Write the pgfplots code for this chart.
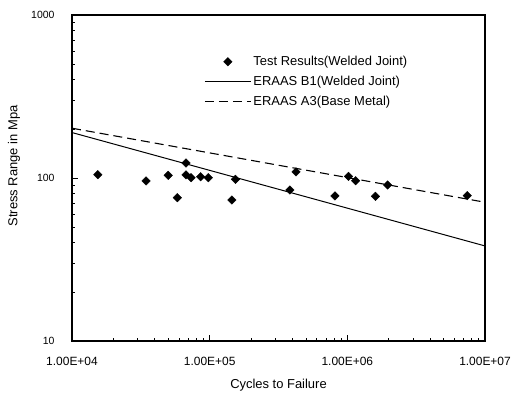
\documentclass[border=0pt]{standalone}
\usepackage{pgfplots}
\pgfplotsset{compat=1.18}
\usepackage{fontspec}
\setmainfont{Liberation Sans}
\begin{document}
\begin{tikzpicture}
\useasboundingbox (0,0) rectangle (512bp,394bp);
\begin{axis}[
  at={(72bp,53bp)}, anchor=south west,
  scale only axis, width=413bp, height=326bp,
  xmode=log, ymode=log,
  xmin=1e4, xmax=1e7, ymin=10, ymax=1000,
  xtick={1e4,1e5,1e6,1e7},
  xticklabels={1.00E+04,1.00E+05,1.00E+06,1.00E+07},
  ytick={10,100,1000},
  yticklabels={10,100,1000},
  xtick pos=bottom, ytick pos=left,
  tick align=inside,
  major tick length=6bp, minor tick length=3.5bp,
  every tick/.style={black, line width=0.8pt},
  axis line style={line width=1.2pt},
  xticklabel style={font=\fontsize{12}{14}\selectfont, yshift=-13bp},
  yticklabel style={font=\fontsize{10.5}{12}\selectfont, xshift=-14bp},
  xlabel={Cycles to Failure},
  ylabel={Stress Range in Mpa},
  xlabel style={font=\fontsize{13}{15}\selectfont, at={(axis description cs:0.5,0)}, anchor=base, yshift=-48bp},
  ylabel style={font=\fontsize{13}{15}\selectfont, at={(axis description cs:-0.132,0.537)}, anchor=base},
  legend style={draw=none, fill=none, at={(axis description cs:0.32,0.88)}, anchor=north west,
    font=\fontsize{13}{15}\selectfont, row sep=5bp, inner sep=0pt},
  legend cell align=left,
  legend image code/.code={\draw[mark repeat=2,mark phase=2,#1] plot coordinates {(0bp,0bp) (23bp,0bp) (46bp,0bp)};},
]
\addplot[only marks, mark=square*, mark options={rotate=45}, mark size=3bp, black] coordinates {
  (1.54e4,104.8) (3.45e4,95.9) (5.0e4,103.9) (5.82e4,75.7) (6.73e4,123.6)
  (6.73e4,104.4) (7.32e4,100.4) (8.6e4,101.8) (9.77e4,100.4) (1.45e5,73.3)
  (1.54e5,98.2) (3.83e5,84.4) (4.24e5,109) (8.13e5,77.6) (1.02e6,102.4)
  (1.15e6,96.2) (1.6e6,77.2) (1.96e6,90.6) (7.43e6,77.9)
};
\addlegendentry{Test Results(Welded Joint)}
\addplot[black, line width=1pt] coordinates {(1e4,190) (1e7,38.3)};
\addlegendentry{ERAAS B1(Welded Joint)}
\addplot[black, line width=1.1pt, dash pattern=on 9bp off 5bp] coordinates {(1e4,202) (1e7,71)};
\addlegendentry{ERAAS A3(Base Metal)}
\end{axis}
\end{tikzpicture}
\end{document}
